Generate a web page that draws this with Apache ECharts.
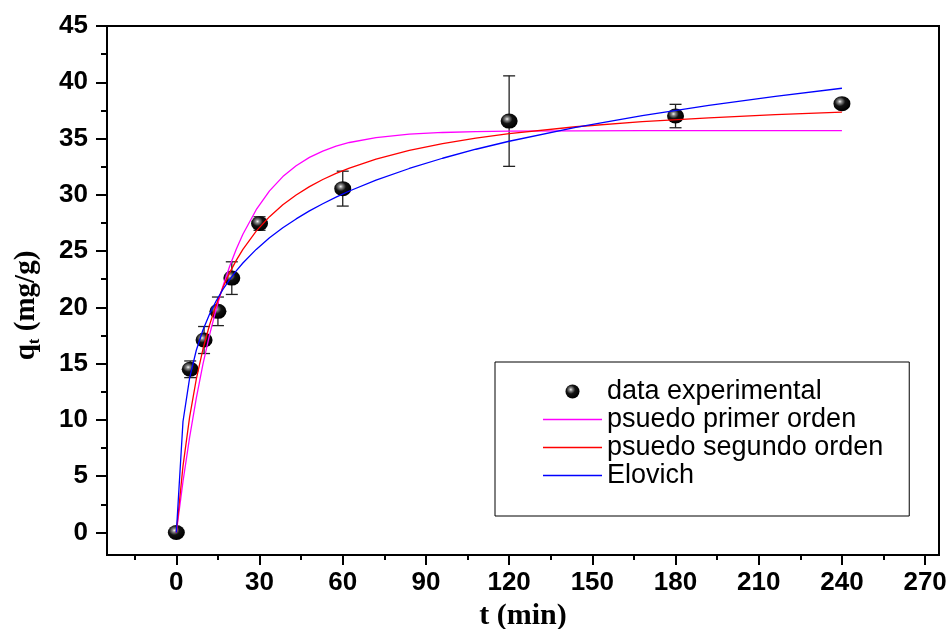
<!DOCTYPE html>
<html>
<head>
<meta charset="utf-8">
<script src="https://cdn.jsdelivr.net/npm/echarts@6/dist/echarts.min.js"></script>
<style>html,body{margin:0;padding:0;background:#fff}#c{width:950px;height:629px}</style>
</head>
<body>
<div id="c"></div>
<script>
// ---- data ----
const tExp = [0, 5, 10, 15, 20, 30, 60, 120, 180, 240];
const qExp = [0, 14.5, 17.1, 19.65, 22.6, 27.45, 30.55, 36.55, 37.0, 38.1];
const qErr = [0, 0.74, 1.2, 1.27, 1.45, 0.6, 1.55, 4.02, 1.04, 0];

const tFit = [0, 2.4, 4.8, 7.2, 9.6, 12, 14.4, 16.8, 19.2, 21.6, 24, 28.8, 33.6, 38.4, 43.2, 48, 52.8, 57.6, 62.4, 72, 84, 96, 108, 120, 144, 168, 192, 216, 240];
const qPrimer = [0, 4.53, 8.48, 11.93, 14.95, 17.58, 19.88, 21.88, 23.63, 25.16, 26.50, 28.68, 30.35, 31.62, 32.59, 33.33, 33.89, 34.32, 34.65, 35.09, 35.39, 35.54, 35.62, 35.66, 35.69, 35.70, 35.70, 35.70, 35.70];
const qSegundo = [0, 5.90, 10.27, 13.63, 16.30, 18.46, 20.26, 21.77, 23.07, 24.18, 25.16, 26.78, 28.06, 29.12, 29.99, 30.73, 31.36, 31.90, 32.38, 33.18, 33.95, 34.55, 35.04, 35.43, 36.05, 36.50, 36.84, 37.12, 37.34];
const qElovich = [0, 9.86, 13.73, 16.19, 17.99, 19.41, 20.59, 21.60, 22.47, 23.25, 23.94, 25.15, 26.18, 27.07, 27.86, 28.57, 29.21, 29.80, 30.34, 31.30, 32.34, 33.25, 34.05, 34.76, 36.00, 37.04, 37.95, 38.75, 39.47];

const xMajor = [0, 30, 60, 90, 120, 150, 180, 210, 240, 270];
const xMinor = [-15, 15, 45, 75, 105, 135, 165, 195, 225, 255];
const yMajor = [0, 5, 10, 15, 20, 25, 30, 35, 40, 45];
const yMinor = [2.5, 7.5, 12.5, 17.5, 22.5, 27.5, 32.5, 37.5, 42.5];

const names = ['data experimental', 'psuedo primer orden', 'psuedo segundo orden', 'Elovich'];

// ---- chart ----
const chart = echarts.init(document.getElementById('c'), null, {renderer: 'canvas'});
const sans = 'Liberation Sans, Arial, sans-serif';
const serif = 'Liberation Serif, Times New Roman, serif';
const X_MIN = -25, X_MAX = 275, Y_MIN = -2, Y_MAX = 45;

const ballColor = {
  type: 'radial', x: 0.38, y: 0.36, r: 0.62,
  colorStops: [
    {offset: 0, color: '#f4f4f4'},
    {offset: 0.18, color: '#8a8a8a'},
    {offset: 0.5, color: '#121212'},
    {offset: 1, color: '#000000'}
  ]
};
const lineIcon = 'path://M0,0L59,0L59,1.4L0,1.4Z';

function fitData(ys) { return tFit.map((t, i) => [t, ys[i]]); }

const option = {
  backgroundColor: '#fff',
  animation: false,
  grid: {left: 107, right: 11, top: 26, bottom: 74, outerBoundsMode: 'none',
         show: true, borderColor: '#000', borderWidth: 2, backgroundColor: 'transparent'},
  legend: {
    data: [
      {name: names[0], icon: 'circle'},
      {name: names[1], icon: lineIcon},
      {name: names[2], icon: lineIcon},
      {name: names[3], icon: lineIcon}
    ],
    orient: 'vertical',
    left: 495, top: 362,
    padding: [16, 26, 27, 48],
    itemWidth: 59, itemHeight: 14, itemGap: 1,
    borderColor: '#000', borderWidth: 1, backgroundColor: '#fff',
    selectedMode: false,
    textStyle: {fontFamily: sans, fontSize: 27, lineHeight: 27, color: '#000'}
  },
  xAxis: [
    {type: 'value', min: X_MIN, max: X_MAX, position: 'bottom',
     axisLine: {onZero: false, lineStyle: {color: '#000', width: 2}},
     axisTick: {customValues: xMajor, length: 10, lineStyle: {color: '#000', width: 2}},
     axisLabel: {customValues: xMajor, margin: 15, fontFamily: sans, fontWeight: 'bold', fontSize: 26, color: '#000'},
     splitLine: {show: false},
     name: 't (min)', nameLocation: 'middle', nameGap: 44,
     nameTextStyle: {fontFamily: serif, fontWeight: 'bold', fontSize: 30, color: '#000'}},
    {type: 'value', min: X_MIN, max: X_MAX, position: 'bottom',
     axisLine: {show: false, onZero: false},
     axisTick: {customValues: xMinor, length: 5, lineStyle: {color: '#000', width: 2}},
     axisLabel: {show: false}, splitLine: {show: false}}
  ],
  yAxis: [
    {type: 'value', min: Y_MIN, max: Y_MAX, position: 'left',
     axisLine: {onZero: false, lineStyle: {color: '#000', width: 2}},
     axisTick: {customValues: yMajor, length: 11, lineStyle: {color: '#000', width: 2}},
     axisLabel: {customValues: yMajor, margin: 19, fontFamily: sans, fontWeight: 'bold', fontSize: 26, color: '#000'},
     splitLine: {show: false},
     name: '{q|q}{s|t}{q| (mg/g)}', nameLocation: 'middle', nameGap: 64, nameRotate: 90,
     nameTextStyle: {
       color: '#000',
       padding: [0, 30, 0, 0],
       rich: {
         q: {fontFamily: serif, fontWeight: 'bold', fontSize: 29, lineHeight: 29, padding: [0, 0, 4, 0], color: '#000'},
         s: {fontFamily: serif, fontWeight: 'bold', fontSize: 17, lineHeight: 17, verticalAlign: 'bottom', color: '#000'}
       }
     }},
    {type: 'value', min: Y_MIN, max: Y_MAX, position: 'left',
     axisLine: {show: false, onZero: false},
     axisTick: {customValues: yMinor, length: 6, lineStyle: {color: '#000', width: 2}},
     axisLabel: {show: false}, splitLine: {show: false}}
  ],
  series: [
    {
      type: 'custom',
      xAxisIndex: 0, yAxisIndex: 0,
      data: tExp.map((t, i) => [t, qExp[i], qErr[i]]),
      encode: {x: 0, y: 1},
      renderItem: function (params, api) {
        const x = api.value(0), y = api.value(1), e = api.value(2);
        if (!(e > 0)) return null;
        const top = api.coord([x, y + e]);
        const bot = api.coord([x, y - e]);
        const hw = 6;
        const st = {stroke: '#222', lineWidth: 1.3};
        return {
          type: 'group',
          children: [
            {type: 'line', shape: {x1: top[0], y1: top[1], x2: bot[0], y2: bot[1]}, style: st},
            {type: 'line', shape: {x1: top[0] - hw, y1: top[1], x2: top[0] + hw, y2: top[1]}, style: st},
            {type: 'line', shape: {x1: bot[0] - hw, y1: bot[1], x2: bot[0] + hw, y2: bot[1]}, style: st}
          ]
        };
      },
      silent: true, z: 2
    },
    {
      name: names[0], type: 'scatter',
      xAxisIndex: 0, yAxisIndex: 0,
      data: tExp.map((t, i) => [t, qExp[i]]),
      symbol: 'circle', symbolSize: [17, 15],
      itemStyle: {color: ballColor, opacity: 1},
      z: 3
    },
    {
      name: names[1], type: 'line', xAxisIndex: 0, yAxisIndex: 0,
      data: fitData(qPrimer), symbol: 'none', smooth: false,
      lineStyle: {color: '#ff00ff', width: 1.3}, itemStyle: {color: '#ff00ff'}, z: 4
    },
    {
      name: names[2], type: 'line', xAxisIndex: 0, yAxisIndex: 0,
      data: fitData(qSegundo), symbol: 'none', smooth: false,
      lineStyle: {color: '#ff0000', width: 1.3}, itemStyle: {color: '#ff0000'}, z: 4
    },
    {
      name: names[3], type: 'line', xAxisIndex: 0, yAxisIndex: 0,
      data: fitData(qElovich), symbol: 'none', smooth: false,
      lineStyle: {color: '#0000ff', width: 1.3}, itemStyle: {color: '#0000ff'}, z: 4
    }
  ]
};
chart.setOption(option);
</script>
</body>
</html>
